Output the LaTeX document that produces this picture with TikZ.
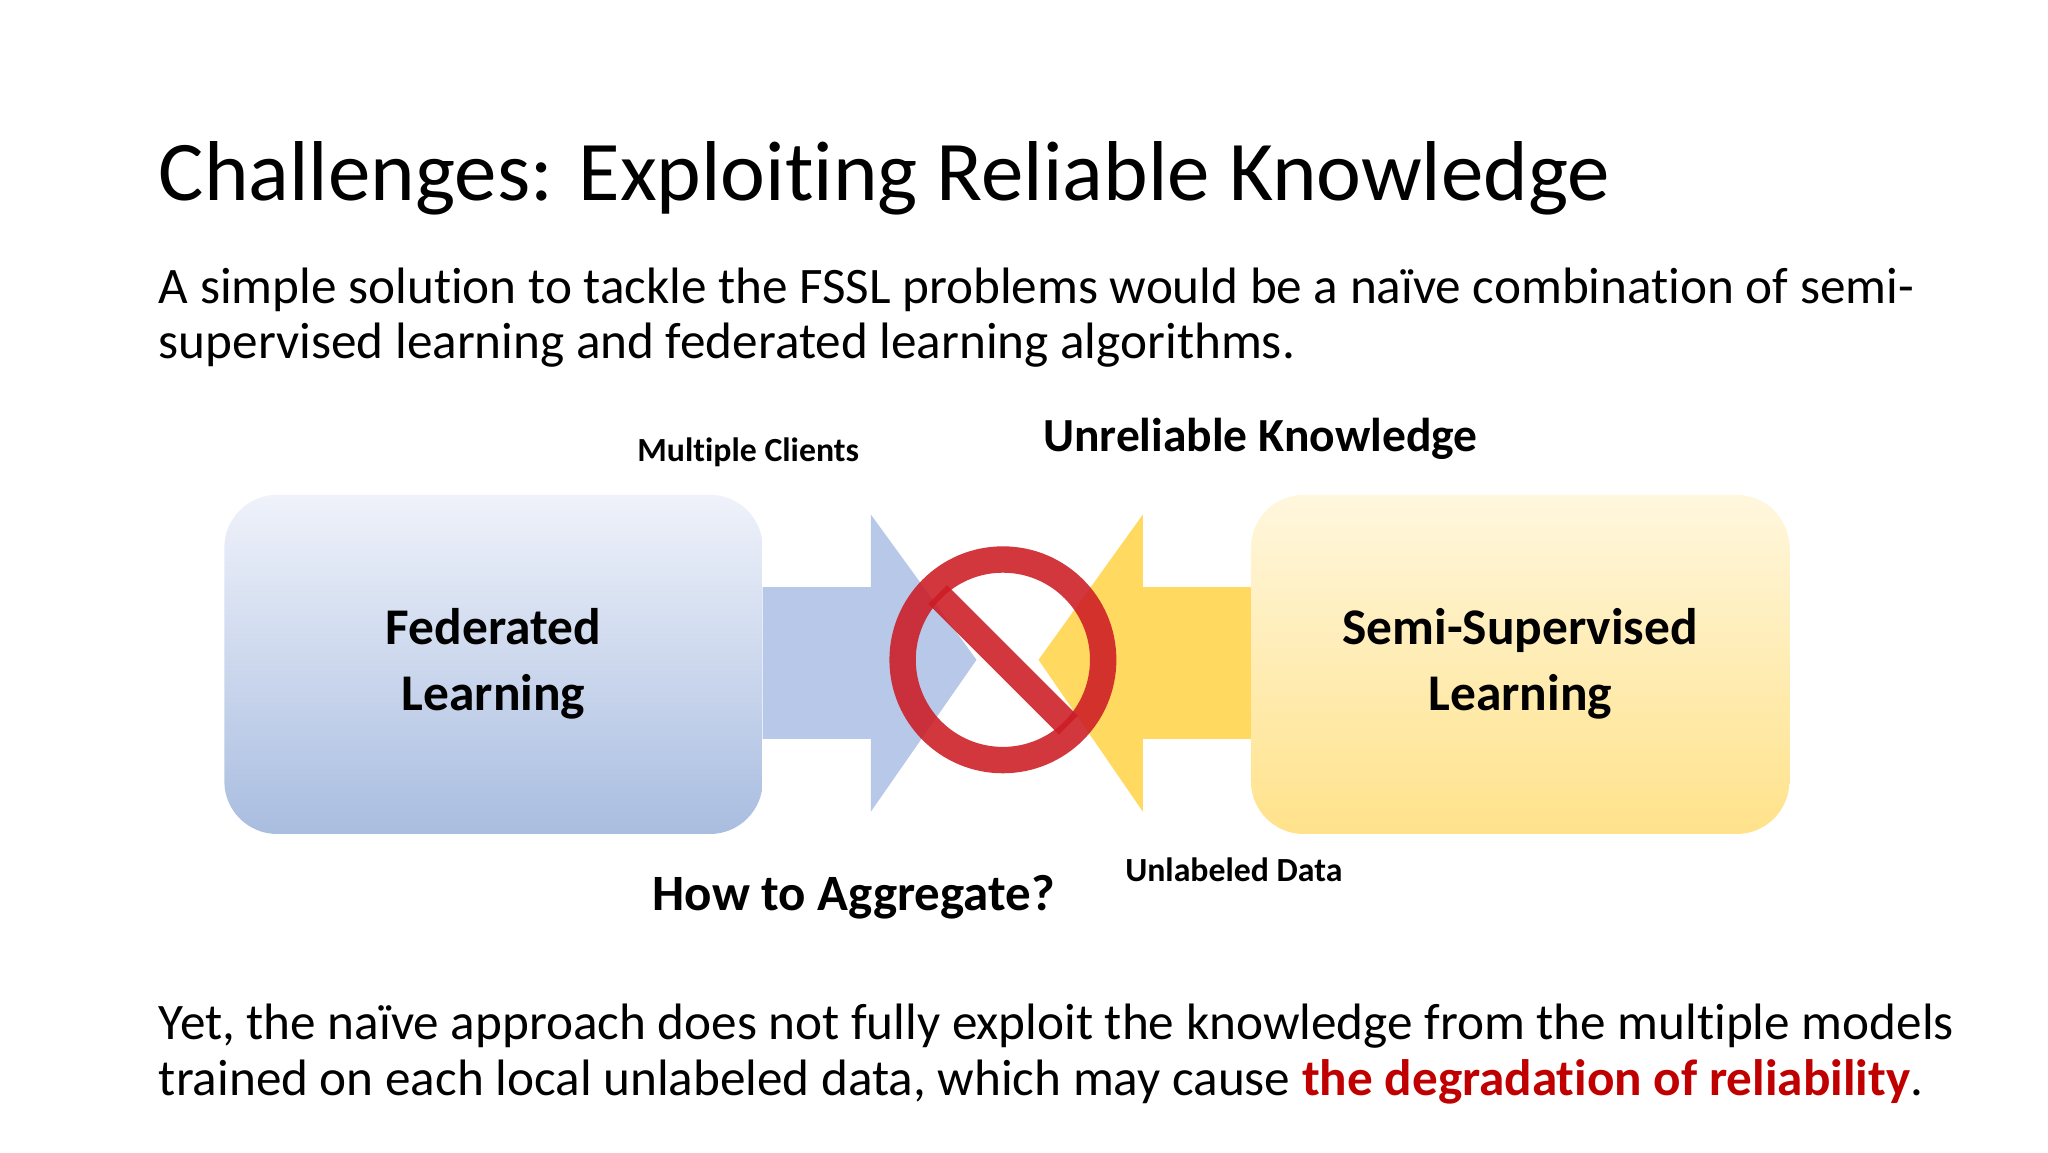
\documentclass[tikz,border=0pt]{standalone}
\usepackage{fontspec}
\setmainfont{Carlito}[RawFeature=-liga]
\usetikzlibrary{calc}
\tikzset{
  txt/.style={inner sep=0pt,anchor=base west},
  lbl/.style={inner sep=0pt,anchor=base,font=\bfseries\fontsize{12.8}{14}\selectfont},
  big/.style={inner sep=0pt,anchor=base,font=\bfseries\fontsize{18}{20}\selectfont},
  boxtxt/.style={align=center,font=\bfseries\fontsize{19.5}{23}\selectfont}
}
\definecolor{myred}{HTML}{C00000}
\definecolor{bluetop}{HTML}{EFF2FA}
\definecolor{bluebot}{HTML}{A9BDE0}
\definecolor{yeltop}{HTML}{FFF7DE}
\definecolor{yelbot}{HTML}{FFE28A}
\definecolor{bluearr}{HTML}{B4C6E7}
\definecolor{yelarr}{HTML}{FFD54F}
\definecolor{signred}{HTML}{CC1C24}
\begin{document}
\begin{tikzpicture}[x=0.5pt,y=-0.5pt]
\useasboundingbox[fill=white] (0,0) rectangle (1552,873);
\node[txt,font=\fontsize{32.2}{38}\selectfont] (title) at (120,152) {Challenges: Exploiting Reliable Knowledge};
\node[txt,font=\fontsize{19.4}{24}\selectfont] (p1) at (120,230) {A simple solution to tackle the FSSL problems would be a naïve combination of semi-};
\node[txt,font=\fontsize{19.4}{24}\selectfont] (p2) at (120,272) {supervised learning and federated learning algorithms.};
% boxes
\shade[top color=bluetop, bottom color=bluebot, rounded corners=20pt] (170,375) rectangle (578,632);
\shade[top color=yeltop, bottom color=yelbot, rounded corners=20pt] (948,375) rectangle (1356,632);
\node[boxtxt] (fl) at (374,503) {Federated\\[2pt]Learning};
\node[boxtxt] (ssl) at (1152,503) {Semi-Supervised\\[2pt]Learning};
% arrows
\fill[bluearr,opacity=0.95] (578,445) -- (660,445) -- (660,390) -- (740,500) -- (660,615) -- (660,560) -- (578,560) -- cycle;
\fill[yelarr,opacity=0.9] (948,445) -- (866,445) -- (866,390) -- (787,500) -- (866,615) -- (866,560) -- (948,560) -- cycle;
% prohibition sign
\begin{scope}[opacity=0.88]
\fill[signred,even odd rule] (760,500) circle (86) (760,500) circle (66);
\fill[signred] ($(760,500)+(225:70)+(-45:10)$) -- ($(760,500)+(225:70)+(135:10)$) -- ($(760,500)+(45:70)+(135:10)$) -- ($(760,500)+(45:70)+(-45:10)$) -- cycle;
\end{scope}
\node[lbl] (mc) at (567,350) {Multiple Clients};
\node[big] (uk) at (955,342) {Unreliable Knowledge};
\node[big,font=\bfseries\fontsize{19.3}{22}\selectfont] (ha) at (647,690) {How to Aggregate?};
\node[lbl] (ud) at (935,668) {Unlabeled Data};
\node[txt,font=\fontsize{19.4}{24}\selectfont] (q1) at (120,788) {Yet, the naïve approach does not fully exploit the knowledge from the multiple models};
\node[txt,font=\fontsize{19.4}{24}\selectfont] (q2) at (120,830) {trained on each local unlabeled data, which may cause \textcolor{myred}{\bfseries the degradation of reliability}.};
\end{tikzpicture}
\end{document}
